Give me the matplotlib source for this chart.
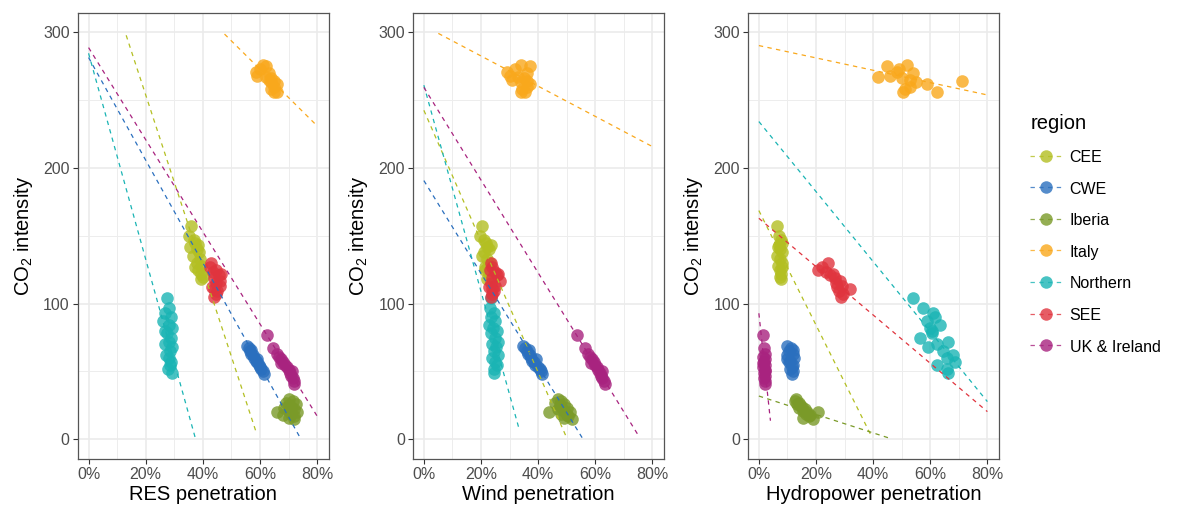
import numpy as np
import matplotlib
matplotlib.use("Agg")
import matplotlib.pyplot as plt
from matplotlib.lines import Line2D
from matplotlib.ticker import MultipleLocator, PercentFormatter

plt.rcParams["font.family"] = ["Liberation Sans", "DejaVu Sans"]
plt.rcParams["mathtext.default"] = "regular"

regions = ["CEE", "CWE", "Iberia", "Italy", "Northern", "SEE", "UK & Ireland"]
colors = {
    "CEE": "#b3bf22",
    "CWE": "#2a6fbe",
    "Iberia": "#7a9a28",
    "Italy": "#f9a81c",
    "Northern": "#1ab4b4",
    "SEE": "#e0343e",
    "UK & Ireland": "#a8237f",
}

# CO2 intensity of each observation, per region
co2 = {
    "CEE": [157, 150, 147, 145, 142, 140, 138, 135, 133, 130, 128, 125, 122, 120, 118, 143, 127],
    "CWE": [69, 67, 65, 63, 62, 60, 58, 57, 55, 53, 52, 50, 48, 66, 59],
    "Iberia": [30, 28, 27, 26, 25, 24, 23, 22, 21, 20, 20, 19, 18, 17, 16, 15],
    "Italy": [276, 275, 273, 271, 270, 268, 267, 266, 265, 264, 263, 262, 260, 258, 256, 256],
    "Northern": [104, 97, 93, 90, 87, 84, 82, 80, 78, 75, 72, 70, 68, 65, 62, 60, 57, 55, 52, 49],
    "SEE": [130, 127, 125, 123, 121, 119, 117, 115, 113, 111, 109, 107, 105, 122, 112],
    "UK & Ireland": [77, 67, 63, 61, 59, 57, 55, 53, 51, 49, 47, 45, 43, 41, 56, 50],
}

res_pen = {
    "CEE": [0.36, 0.352, 0.368, 0.372, 0.356, 0.378, 0.385, 0.366, 0.39, 0.38, 0.395, 0.383,
            0.392, 0.40, 0.393, 0.382, 0.372],
    "CWE": [0.555, 0.56, 0.565, 0.57, 0.575, 0.58, 0.585, 0.59, 0.595, 0.60, 0.605, 0.61, 0.613, 0.568, 0.59],
    "Iberia": [0.70, 0.715, 0.69, 0.725, 0.70, 0.71, 0.685, 0.72, 0.70, 0.66, 0.73, 0.71, 0.68, 0.72, 0.70, 0.72],
    "Italy": [0.61, 0.62, 0.60, 0.585, 0.63, 0.59, 0.62, 0.64, 0.63, 0.65, 0.64, 0.66, 0.65, 0.64, 0.66, 0.65],
    "Northern": [0.275, 0.28, 0.268, 0.287, 0.262, 0.282, 0.292, 0.268, 0.275, 0.287, 0.28, 0.268,
                 0.292, 0.285, 0.272, 0.28, 0.29, 0.285, 0.278, 0.292],
    "SEE": [0.43, 0.425, 0.445, 0.435, 0.455, 0.44, 0.46, 0.445, 0.46, 0.44, 0.45, 0.445, 0.44, 0.465, 0.432],
    "UK & Ireland": [0.625, 0.646, 0.66, 0.667, 0.675, 0.682, 0.686, 0.693, 0.70, 0.705, 0.71, 0.716,
                     0.72, 0.72, 0.672, 0.712],
}

wind_pen = {
    "CEE": [0.205, 0.198, 0.212, 0.218, 0.222, 0.228, 0.212, 0.205, 0.222, 0.232, 0.226, 0.215,
            0.228, 0.232, 0.22, 0.235, 0.214],
    "CWE": [0.347, 0.355, 0.36, 0.365, 0.37, 0.375, 0.38, 0.385, 0.39, 0.40, 0.405, 0.41, 0.415, 0.368, 0.392],
    "Iberia": [0.47, 0.48, 0.46, 0.49, 0.475, 0.48, 0.50, 0.47, 0.49, 0.438, 0.51, 0.48, 0.50, 0.505, 0.49, 0.52],
    "Italy": [0.34, 0.37, 0.32, 0.29, 0.36, 0.30, 0.33, 0.35, 0.31, 0.36, 0.34, 0.37, 0.36, 0.345, 0.355, 0.34],
    "Northern": [0.235, 0.23, 0.245, 0.235, 0.25, 0.228, 0.242, 0.255, 0.235, 0.248, 0.258, 0.24,
                 0.252, 0.245, 0.258, 0.238, 0.25, 0.255, 0.245, 0.245],
    "SEE": [0.235, 0.24, 0.23, 0.248, 0.255, 0.24, 0.265, 0.235, 0.25, 0.24, 0.245, 0.24, 0.235, 0.258, 0.228],
    "UK & Ireland": [0.536, 0.563, 0.575, 0.58, 0.59, 0.595, 0.60, 0.605, 0.61, 0.615, 0.62, 0.625,
                     0.63, 0.635, 0.585, 0.622],
}

hydro_pen = {
    "CEE": [0.064, 0.07, 0.076, 0.08, 0.066, 0.073, 0.082, 0.064, 0.075, 0.082, 0.068, 0.073,
            0.078, 0.075, 0.078, 0.07, 0.08],
    "CWE": [0.10, 0.112, 0.105, 0.118, 0.10, 0.122, 0.108, 0.104, 0.12, 0.115, 0.108, 0.12, 0.115, 0.118, 0.1],
    "Iberia": [0.13, 0.125, 0.14, 0.135, 0.145, 0.15, 0.14, 0.16, 0.155, 0.207, 0.17, 0.165, 0.18, 0.175, 0.154, 0.19],
    "Italy": [0.52, 0.447, 0.49, 0.482, 0.54, 0.46, 0.418, 0.50, 0.53, 0.712, 0.55, 0.587, 0.529, 0.51, 0.625, 0.505],
    "Northern": [0.54, 0.575, 0.61, 0.616, 0.587, 0.634, 0.60, 0.605, 0.605, 0.564, 0.663, 0.622,
                 0.593, 0.645, 0.681, 0.658, 0.687, 0.622, 0.66, 0.663],
    "SEE": [0.242, 0.22, 0.207, 0.235, 0.25, 0.265, 0.283, 0.27, 0.29, 0.318, 0.28, 0.295, 0.289, 0.26, 0.275],
    "UK & Ireland": [0.016, 0.018, 0.02, 0.015, 0.022, 0.018, 0.02, 0.016, 0.021, 0.019, 0.023, 0.017,
                     0.02, 0.02, 0.015, 0.022],
}

# linear fits (intercept, slope) shown as dashed lines; regions without a visible line are left out
res_fit = {
    "CEE": (382.4, -642.8),
    "CWE": (281.4, -378.3),
    "Italy": (398.0, -208.7),
    "Northern": (284.5, -758.8),
    "UK & Ireland": (288.7, -339.4),
}
wind_fit = {
    "CEE": (242.5, -482.8),
    "CWE": (190.7, -342.0),
    "Italy": (304.8, -111.3),
    "Northern": (261.0, -760.0),
    "UK & Ireland": (259.4, -341.6),
}
hydro_fit = {
    "CEE": (168.6, -421.9),
    "Iberia": (31.9, -67.9),
    "Italy": (290.2, -45.5),
    "Northern": (234.2, -258.0),
    "SEE": (162.9, -178.1),
    "UK & Ireland": (92.9, -1955.0),
}

panels = [
    ("RES penetration", res_pen, res_fit),
    ("Wind penetration", wind_pen, wind_fit),
    ("Hydropower penetration", hydro_pen, hydro_fit),
]


def style_axes(ax):
    ax.set_xlim(-0.037, 0.84)
    ax.set_ylim(-14.5, 314.2)
    ax.xaxis.set_major_locator(MultipleLocator(0.2))
    ax.xaxis.set_minor_locator(MultipleLocator(0.1))
    ax.yaxis.set_major_locator(MultipleLocator(100))
    ax.yaxis.set_minor_locator(MultipleLocator(50))
    ax.xaxis.set_major_formatter(PercentFormatter(1.0, decimals=0))
    ax.grid(which="major", color="#ebebeb", lw=1.2)
    ax.grid(which="minor", color="#ededed", lw=0.7)
    ax.set_axisbelow(True)
    ax.tick_params(which="major", length=3.5, width=0.8, color="#333333",
                   labelsize=11.5, labelcolor="#4d4d4d", pad=2.5)
    ax.tick_params(which="minor", length=0)
    for sp in ax.spines.values():
        sp.set_color("#555555")
        sp.set_linewidth(0.9)


fig = plt.figure(figsize=(11.78, 5.08), dpi=100)
W, H = 1178, 508
lefts = [78, 413.3, 748.3]
xs = np.linspace(0, 0.8, 80)

for left, (xlabel, pen, fit) in zip(lefts, panels):
    ax = fig.add_axes([left / W, (508 - 459) / H, 250.5 / W, 446 / H])
    style_axes(ax)
    for r in regions:
        ax.scatter(pen[r], co2[r], s=82, color=colors[r], alpha=0.8, linewidths=0, zorder=2)
    for r in regions:
        if r not in fit:
            continue
        a, b = fit[r]
        ys = a + b * xs
        ys = np.where((ys >= 0) & (ys <= 300), ys, np.nan)
        ax.plot(xs, ys, color=colors[r], lw=0.9, dashes=(3.5, 3.5), zorder=3)
    ax.set_xlabel(xlabel, fontsize=14.5, labelpad=2)
    ax.set_ylabel(r"CO$_2$ intensity", fontsize=14.5, labelpad=6)

handles = [
    Line2D([], [], color=colors[r], marker="o", markersize=9, alpha=0.8,
           lw=0.9, dashes=(3.5, 3.5), markeredgewidth=0)
    for r in regions
]
leg = fig.legend(handles, regions, loc="upper left", bbox_to_anchor=(1016 / W, 1 - 100 / H),
                 frameon=False, fontsize=11.5, title="region", title_fontsize=14.5,
                 handlelength=1.9, handleheight=1.0, labelspacing=1.0, handletextpad=0.55,
                 alignment="left")

fig.savefig("out.png", dpi=100)
